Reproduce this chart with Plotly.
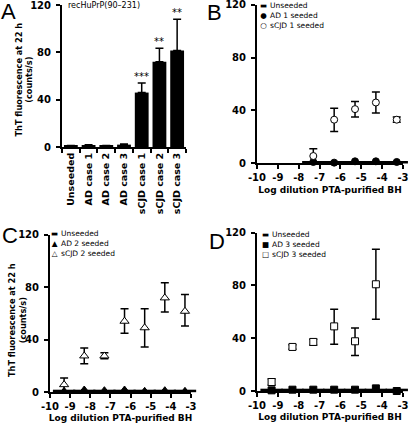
import plotly.graph_objects as go

# ---------------- data ----------------
# Panel A
a_categories = ["Unseeded", "AD case 1", "AD case 2", "AD case 3",
                "sCJD case 1", "sCJD case 2", "sCJD case 3"]
a_values = [1.0, 1.5, 1.0, 2.0, 46, 72, 81.5]
a_errors = [0.3, 0.4, 0.3, 0.6, 8, 11.5, 26.5]
a_stars = ["", "", "", "", "***", "**", "**"]

log_dil = [-9.3, -8.3, -7.3, -6.3, -5.3, -4.3, -3.3]

# Panel B (seeded with case 1)
b_x = [-7.3, -6.3, -5.3, -4.3, -3.3]
b_unseeded = [0.8, 0.8, 0.8, 0.8, 0.8]
b_ad = [1.0, 0.5, 1.5, 1.5, 1.0]
b_scjd = [5.5, 33, 41, 46, 33]
b_scjd_up = [5.5, 8.6, 5.7, 8, 2]
b_scjd_dn = [5.5, 9, 6, 8, 2]

# Panel C (seeded with case 2)
c_x = log_dil
c_unseeded = [0.8, 0.8, 0.8, 0.8, 0.8, 0.8, 0.8]
c_ad = [0.5, 1.5, 1.0, 1.5, 0.5, 1.0, 0.5]
c_scjd = [5.6, 27.5, 27.5, 54, 49, 71.8, 61.6]
c_scjd_up = [5.1, 6.1, 2.5, 9.6, 14.6, 11.6, 12.7]
c_scjd_dn = [5.1, 5.9, 2.1, 9.2, 14.6, 10.8, 11.2]

# Panel D (seeded with case 3)
d_x = log_dil
d_unseeded = [0.8, 0.8, 0.8, 0.8, 0.8, 0.8, 0.8]
d_ad = [0.5, 1.0, 1.0, 1.0, 1.0, 2.0, 0.0]
d_scjd_x = [-9.3, -8.3, -7.3, -6.3, -5.3, -4.3]
d_scjd = [6.8, 33.4, 37.2, 49, 37.7, 80.9]
d_scjd_up = [2.5, 1.7, 2.0, 13, 10.1, 26.5]
d_scjd_dn = [2.5, 1.8, 2.6, 13.6, 10.7, 26.6]

y_ticks = [0, 40, 80, 120]
x_ticks = [-10, -9, -8, -7, -6, -5, -4, -3]
x_tick_labels = ["-10", "-9", "-8", "-7", "-6", "-5", "-4", "-3"]

# ---------------- figure ----------------
W, H = 410, 424
FONT = "DejaVu Sans"
BOLD_TICK = dict(family=FONT, size=10, color="black", weight="bold")
BOLD_TITLE = dict(family=FONT, size=9, color="black", weight="bold")


def xdom(a, b):
    return [a / W, b / W]


def ydom(bottom, top):
    return [1 - bottom / H, 1 - top / H]


fig = go.Figure()

ERR = dict(color="black", thickness=1.5, width=4)

# Panel A bars
fig.add_trace(go.Bar(
    x=a_categories, y=a_values, marker=dict(color="black", line=dict(width=0)),
    width=0.78,
    error_y=dict(type="data", symmetric=False, array=a_errors,
                 arrayminus=[0] * len(a_errors), **ERR),
    xaxis="x", yaxis="y", showlegend=False))

for cat, v, e, s in zip(a_categories, a_values, a_errors, a_stars):
    if s:
        fig.add_annotation(x=cat, y=v + e, xref="x", yref="y", text=s,
                           showarrow=False, yshift=7,
                           font=dict(family=FONT, size=10, color="black"))


def scatter_panel(xa, ya, xu, yu, xad, yad, ad_sym, xs, ys, up, dn, s_sym, msize):
    fig.add_trace(go.Scatter(
        x=xu, y=yu, mode="markers", xaxis=xa, yaxis=ya, showlegend=False,
        cliponaxis=False,
        marker=dict(symbol="line-ew", size=16, color="black",
                    line=dict(color="black", width=2.5))))
    fig.add_trace(go.Scatter(
        x=xad, y=yad, mode="markers", xaxis=xa, yaxis=ya, showlegend=False,
        cliponaxis=False,
        marker=dict(symbol=ad_sym, size=msize, color="black",
                    line=dict(color="black", width=1))))
    fig.add_trace(go.Scatter(
        x=xs, y=ys, mode="markers", xaxis=xa, yaxis=ya, showlegend=False,
        cliponaxis=False,
        error_y=dict(type="data", symmetric=False, array=up, arrayminus=dn, **ERR),
        marker=dict(symbol=s_sym, size=msize, color="white",
                    line=dict(color="black", width=1))))


scatter_panel("x2", "y2", b_x, b_unseeded, b_x, b_ad, "circle",
              b_x, b_scjd, b_scjd_up, b_scjd_dn, "circle", 7)
scatter_panel("x3", "y3", c_x, c_unseeded, c_x, c_ad, "triangle-up",
              c_x, c_scjd, c_scjd_up, c_scjd_dn, "triangle-up", 8)
scatter_panel("x4", "y4", d_x, d_unseeded, d_x, d_ad, "square",
              d_scjd_x, d_scjd, d_scjd_up, d_scjd_dn, "square", 7)

AX = dict(showgrid=False, zeroline=False, showline=True, linecolor="black",
          linewidth=2, ticks="outside", ticklen=4, tickwidth=1.5,
          tickcolor="black", tickfont=BOLD_TICK, automargin=False,
          layer="below traces", ticklabeloverflow="allow")

yaxis_common = dict(AX, range=[0, 120], tickvals=y_ticks, ticklabelstandoff=3)
xnum_common = dict(AX, range=[-10, -3], tickvals=x_ticks, ticktext=x_tick_labels,
                   tickangle=0,
                   title=dict(text="Log dilution PTA-purified BH",
                              font=BOLD_TITLE, standoff=4))
YTITLE_TEXT = "ThT fluorescence at 22 h<br>(counts/s)"

fig.update_layout(
    width=W, height=H, margin=dict(l=0, r=0, t=0, b=0),
    paper_bgcolor="white", plot_bgcolor="white",
    bargap=0.2,
    xaxis=dict(AX, domain=xdom(62, 186), anchor="y", type="category",
               tickson="boundaries", tickangle=-90,
               tickfont=dict(BOLD_TITLE, size=9.5), range=[-0.5, 6.5]),
    yaxis=dict(yaxis_common, domain=ydom(147, 5), anchor="x"),
    xaxis2=dict(xnum_common, domain=xdom(257, 403), anchor="y2"),
    yaxis2=dict(yaxis_common, domain=ydom(163.3, 4.7), anchor="x2"),
    xaxis3=dict(xnum_common, domain=xdom(50, 191), anchor="y3"),
    yaxis3=dict(yaxis_common, domain=ydom(392, 234.7), anchor="x3"),
    xaxis4=dict(xnum_common, domain=xdom(257, 403), anchor="y4"),
    yaxis4=dict(yaxis_common, domain=ydom(391, 232.7), anchor="x4"),
)

# y-axis titles (panels A and C)
for cx, cy in [(24.5, 80), (17, 320)]:
    fig.add_annotation(x=cx / W, y=1 - cy / H, xref="paper", yref="paper",
                       text=YTITLE_TEXT, textangle=-90, showarrow=False,
                       xanchor="center", yanchor="middle", borderpad=0,
                       font=dict(family=FONT, size=8.2, color="black",
                                 weight="bold"))

# panel letters
for letter, px, py in [("A", 0, -2), ("B", 206, -1), ("C", 1, 222), ("D", 208, 228)]:
    fig.add_annotation(x=px / W, y=1 - py / H, xref="paper", yref="paper",
                       text=letter, showarrow=False, xanchor="left", yanchor="top",
                       borderpad=0,
                       font=dict(family="Liberation Sans", size=22, color="black"))

fig.add_annotation(x=67 / W, y=1 - 0 / H, xref="paper", yref="paper",
                   text="recHuPrP(90–231)", showarrow=False, xanchor="left",
                   yanchor="top", borderpad=0,
                   font=dict(family=FONT, size=8, color="black"))

# legends (drawn as text)
legend_sets = [
    (263, 0, ["▬", "●", "○"], ["Unseeded", "AD 1 seeded", "sCJD 1 seeded"]),
    (54, 228, ["▬", "▲", "△"], ["Unseeded", "AD 2 seeded", "sCJD 2 seeded"]),
    (265, 229, ["▬", "■", "□"], ["Unseeded", "AD 3 seeded", "sCJD 3 seeded"]),
]
for lx, ly, syms, labels in legend_sets:
    fig.add_annotation(x=lx / W, y=1 - ly / H, xref="paper", yref="paper",
                       text="<br>".join(syms), showarrow=False, xanchor="center",
                       yanchor="top", borderpad=0, align="center",
                       font=dict(family=FONT, size=7.5, color="black"))
    fig.add_annotation(x=(lx + 6) / W, y=1 - ly / H, xref="paper", yref="paper",
                       text="<br>".join(labels), showarrow=False, xanchor="left",
                       yanchor="top", borderpad=0, align="left",
                       font=dict(family=FONT, size=7.5, color="black"))

fig.write_html(
    "out.html",
    config={"displayModeBar": False},
    post_script="document.body.style.margin='0';"
                "document.documentElement.style.overflow='hidden';")
